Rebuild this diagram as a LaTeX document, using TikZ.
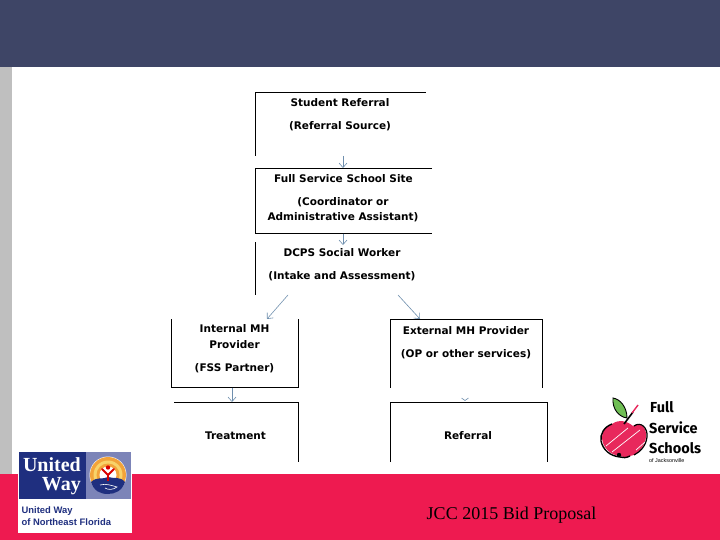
\documentclass[tikz,border=0pt]{standalone}
\usepackage{fontspec}
\setmainfont{Liberation Sans}
\newfontfamily\serifface{Liberation Serif}
\newfontfamily\handface{Fira Sans}
\newfontfamily\wideface{DejaVu Sans}
\usetikzlibrary{arrows.meta}
\definecolor{bandblue}{HTML}{3E4566}
\definecolor{bandred}{HTML}{EE1A50}
\definecolor{stripgrey}{HTML}{BFBFBF}
\definecolor{arrowblue}{HTML}{6F8FAE}
\definecolor{uwnavy}{HTML}{1F2F7F}
\definecolor{uwperi}{HTML}{7C84B8}
\definecolor{uworange}{HTML}{F2A33A}
\definecolor{uwyellow}{HTML}{F8D36A}
\definecolor{applered}{HTML}{E8285C}
\definecolor{leafgreen}{HTML}{6FBE54}
\tikzset{
  x=1pt,y=-1pt,
  flowbox/.style={inner sep=0pt,outer sep=0pt,align=center,text height=10pt,text depth=2pt,font=\wideface\fontsize{10.5}{15}\selectfont\bfseries},
  edge/.style={black,line width=1pt},
  flowarrow/.style={draw=arrowblue,line width=0.6pt,-{Straight Barb[length=4.5pt,width=8pt,line width=0.6pt]}},
  uwtext/.style={inner sep=0pt,anchor=west,text=uwnavy,font=\bfseries\fontsize{9.4}{12}\selectfont},
  fsstext/.style={inner sep=0pt,anchor=west,font=\handface\fontsize{14.5}{15}\selectfont\bfseries},
}
\begin{document}
\begin{tikzpicture}
\useasboundingbox (0,0) rectangle (720,540);
\fill[white] (0,0) rectangle (720,540);
\fill[bandblue] (0,0) rectangle (720,67);
\fill[stripgrey] (0,67) rectangle (12,474);
\fill[bandred] (0,474) rectangle (720,540);

% box corners
\coordinate (aTL) at (255,92.5); \coordinate (aTR) at (426,92.5); \coordinate (aBL) at (255,156);
\coordinate (bTL) at (255,168.5); \coordinate (bTR) at (432,168.5); \coordinate (bBL) at (255,233.5); \coordinate (bBR) at (432,233.5);
\coordinate (cTL) at (255,242); \coordinate (cBL) at (255,295);
\coordinate (dTL) at (171.5,319); \coordinate (dTR) at (298.5,319); \coordinate (dBL) at (171.5,387.5); \coordinate (dBR) at (298.5,387.5);
\coordinate (eTL) at (390.5,319.5); \coordinate (eTR) at (542.5,319.5); \coordinate (eBL) at (390.5,387.5); \coordinate (eBR) at (542.5,387.5);
\coordinate (fTL) at (174,402.5); \coordinate (fTR) at (298.5,402.5); \coordinate (fBR) at (298.5,462);
\coordinate (gTL) at (390.5,402.5); \coordinate (gTR) at (547,402.5); \coordinate (gBL) at (390.5,462); \coordinate (gBR) at (547,462);

\draw[edge] (aBL) -- (aTL) -- (aTR);
\draw[edge] (bTR) -- (bTL) -- (bBL) -- (bBR);
\draw[edge] (cTL) -- (cBL);
\draw[edge] (dTL) -- (dBL) -- (dBR) -- (dTR);
\draw[edge] (eBL) -- (eTL) -- (eTR) -- (eBR);
\draw[edge] (fTL) -- (fTR) -- (fBR);
\draw[edge] (gBL) -- (gTL) -- (gTR) -- (gBR);

% labels
\node[flowbox] (student1) at (340,102.5) {Student Referral};
\node[flowbox] (student2) at (340,125.5) {(Referral Source)};
\node[flowbox] (site1) at (343.5,178.5) {Full Service School Site};
\node[flowbox] (site2) at (343,201.5) {(Coordinator or};
\node[flowbox] (site3) at (343,216.5) {Administrative Assistant)};
\node[flowbox] (dcps1) at (342,252.5) {DCPS Social Worker};
\node[flowbox] (dcps2) at (342,275.5) {(Intake and Assessment)};
\node[flowbox] (int1) at (234.5,328.5) {Internal MH};
\node[flowbox] (int2) at (234.5,344.5) {Provider};
\node[flowbox] (int3) at (234.5,367.5) {(FSS Partner)};
\node[flowbox] (ext1) at (466,330) {External MH Provider};
\node[flowbox] (ext2) at (466,353) {(OP or other services)};
\node[flowbox] (treat) at (235.5,435.5) {Treatment};
\node[flowbox] (ref) at (468,435.5) {Referral};

% connectors
\coordinate (a1s) at (343,156); \coordinate (a1e) at (343,168);
\coordinate (a2s) at (343,233.5); \coordinate (a2e) at (343,245);
\coordinate (a3s) at (288,295); \coordinate (a3e) at (267,319);
\coordinate (a4s) at (398,295); \coordinate (a4e) at (420,319);
\coordinate (a5s) at (232,387.5); \coordinate (a5e) at (232,402);
\draw[flowarrow] (a1s) -- (a1e);
\draw[flowarrow] (a2s) -- (a2e);
\draw[flowarrow] (a3s) -- (a3e);
\draw[flowarrow] (a4s) -- (a4e);
\draw[flowarrow] (a5s) -- (a5e);
\draw[draw=arrowblue,line width=0.6pt] (461.5,398) -- (465,400.5) -- (468.5,398);

% footer
\node[inner sep=0pt,font=\serifface\fontsize{18}{20}\selectfont] (footer) at (511.5,515.5) {JCC 2015 Bid Proposal};

% United Way logo
\fill[white] (18,452) rectangle (131.5,533);
\fill[uwnavy] (19,452) rectangle (85.5,499);
\fill[uwperi] (85.5,452) rectangle (131,499);
\node[inner sep=0pt,text=white,align=right,anchor=east,font=\serifface\bfseries\fontsize{20}{19.5}\selectfont] (uw1) at (81,476) {United\\Way};
\fill[white] (108,475) circle (18.5);
\fill[uworange] (108,475) circle (18);
\fill[uwyellow] (108,475) circle (14.5);
\fill[uworange] (108,475) circle (11.5);
\fill[white] (108,475) circle (8.5);
\fill[uwnavy] (91,482) .. controls (98,476) and (102,480) .. (108,477) .. controls (114,479) and (120,476) .. (125,482) .. controls (122,491) and (115,494) .. (108,494) .. controls (100,494) and (94,491) .. (91,482) -- cycle;
\draw[white,line width=0.6pt] (100,485) .. controls (106,483) and (113,486) .. (117,487) .. controls (113,490) and (108,490) .. (105,488);
\draw[red!85!black,line width=2pt,line cap=round] (102,469) -- (108,475) -- (114,469);
\draw[red!85!black,line width=2.2pt] (108,475) -- (108,481);
\fill[red!85!black] (108,467.5) circle (2.2);
\node[uwtext] (uw3) at (21.5,511) {United Way};
\node[uwtext] (uw4) at (21.5,522.5) {of Northeast Florida};

% Full Service Schools logo
\fill[applered] (612,424) .. controls (619,419) and (627,421) .. (633,426) .. controls (640,421) and (647,427) .. (646,437) .. controls (645,447) and (637,455) .. (630,456) .. controls (626,458) and (623,457) .. (620,456) .. controls (609,455) and (602,446) .. (602,437) .. controls (602,431) and (606,426) .. (612,424) -- cycle;
\draw[white,line width=0.7pt] (606,446) -- (628,428) (612,452) -- (640,430) (636,450) -- (645,442);
\draw[black,line width=1.4pt] (612,424) .. controls (604,427) and (600,434) .. (601,441) .. controls (603,450) and (610,456) .. (620,457) .. controls (623,458) and (626,458) .. (630,456);
\draw[black,line width=1.2pt] (634,426) .. controls (641,421) and (648,428) .. (647,437) .. controls (646,446) and (640,452) .. (634,455);
\fill[black] (619,455) circle (2.2);
\draw[black,line width=1.6pt] (624,424) -- (633,412);
\draw[applered,line width=1.4pt] (632,413) -- (638,405);
\fill[leafgreen,draw=black,line width=0.9pt] (613,398) .. controls (620,399) and (627,407) .. (627,418) .. controls (619,417) and (612,409) .. (613,398) -- cycle;
\node[fsstext] (fss1) at (650,407) {Full};
\node[fsstext] (fss2) at (649,428) {Service};
\node[fsstext] (fss3) at (649,448) {Schools};
\node[inner sep=0pt,anchor=west,font=\fontsize{5.4}{6}\selectfont] (fss4) at (649,461) {of Jacksonville};
\end{tikzpicture}
\end{document}
